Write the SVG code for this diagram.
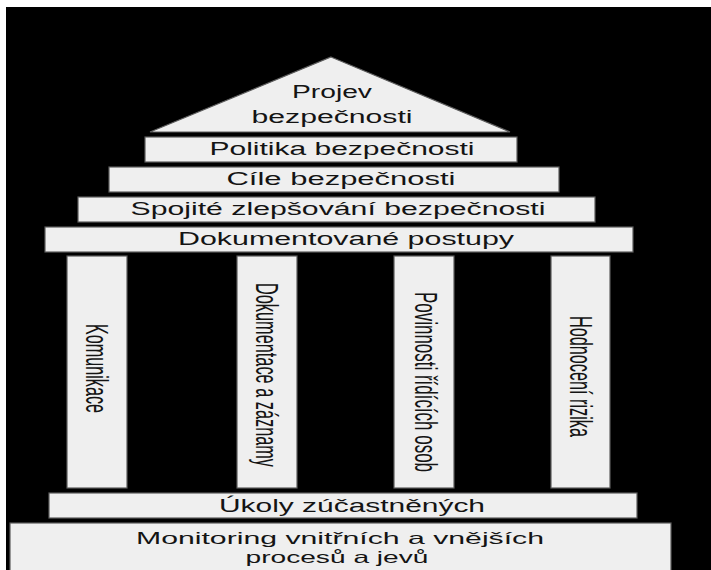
<svg xmlns="http://www.w3.org/2000/svg" width="711" height="570" viewBox="0 0 711 570">
<style>
.box{fill:#efefef;stroke:#5c5c5c;stroke-width:1.2}
.t{font-family:"Liberation Sans",Arial,sans-serif;font-size:18px;fill:#141414;text-anchor:middle}
.s{font-size:16.5px}
</style>
<rect x="0" y="0" width="711" height="570" fill="#ffffff"/>
<rect x="6" y="7" width="705" height="563" fill="#000000"/>
<g id="roof">
<polygon class="box" points="331,57 510,132 150,132"/>
<text class="t" x="332" y="98" textLength="80" lengthAdjust="spacingAndGlyphs">Projev</text>
<text class="t" x="332" y="123" textLength="161" lengthAdjust="spacingAndGlyphs">bezpečnosti</text>
</g>
<g id="politika">
<rect class="box" x="145" y="137" width="372" height="25"/>
<text class="t" x="342" y="155" textLength="265" lengthAdjust="spacingAndGlyphs">Politika bezpečnosti</text>
</g>
<g id="cile">
<rect class="box" x="109" y="167" width="450" height="25"/>
<text class="t" x="341" y="185" textLength="229" lengthAdjust="spacingAndGlyphs">Cíle bezpečnosti</text>
</g>
<g id="spojite">
<rect class="box" x="78" y="197" width="517" height="25"/>
<text class="t" x="338" y="215" textLength="415" lengthAdjust="spacingAndGlyphs">Spojité zlepšování bezpečnosti</text>
</g>
<g id="dokumentovane">
<rect class="box" x="45" y="227" width="588" height="25"/>
<text class="t" x="346" y="245" textLength="336" lengthAdjust="spacingAndGlyphs">Dokumentované postupy</text>
</g>
<g id="komunikace">
<rect class="box" x="67" y="256" width="60" height="232"/>
<text class="t" transform="translate(97,368.5) scale(1.7,1) rotate(90)" x="0" y="6.4" textLength="89" lengthAdjust="spacingAndGlyphs">Komunikace</text>
</g>
<g id="dokumentace">
<rect class="box" x="237" y="256" width="60" height="232"/>
<text class="t" transform="translate(267,375) scale(1.7,1) rotate(90)" x="0" y="6.4" textLength="184" lengthAdjust="spacingAndGlyphs">Dokumentace a záznamy</text>
</g>
<g id="povinnosti">
<rect class="box" x="394" y="256" width="60" height="232"/>
<text class="t" transform="translate(426,382) scale(1.7,1) rotate(90)" x="0" y="6.4" textLength="180" lengthAdjust="spacingAndGlyphs">Povinnosti řídících osob</text>
</g>
<g id="hodnoceni">
<rect class="box" x="551" y="256" width="59" height="232"/>
<text class="t" transform="translate(581,376.5) scale(1.7,1) rotate(90)" x="0" y="6.4" textLength="121" lengthAdjust="spacingAndGlyphs">Hodnocení rizika</text>
</g>
<g id="ukoly">
<rect class="box" x="49" y="493" width="588" height="25"/>
<text class="t" x="352" y="512" textLength="266" lengthAdjust="spacingAndGlyphs">Úkoly zúčastněných</text>
</g>
<g id="monitoring">
<rect class="box" x="10" y="523" width="661" height="52"/>
<text class="t s" x="340" y="544" textLength="408" lengthAdjust="spacingAndGlyphs">Monitoring vnitřních a vnějších</text>
<text class="t s" x="337" y="563" textLength="183" lengthAdjust="spacingAndGlyphs">procesů a jevů</text>
</g>
<g id="connectors"/>
</svg>
